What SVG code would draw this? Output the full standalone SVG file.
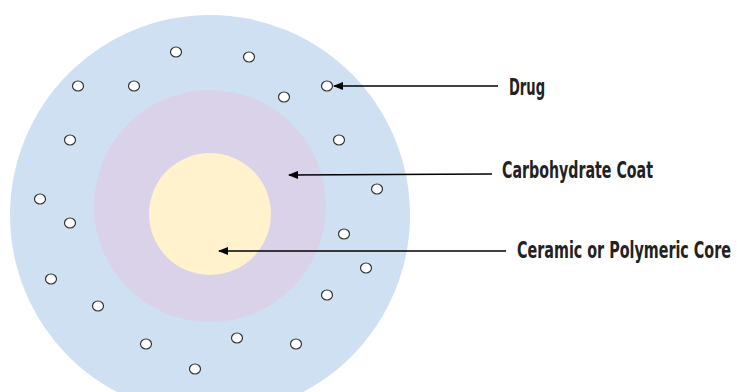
<svg xmlns="http://www.w3.org/2000/svg" width="737" height="392" viewBox="0 0 737 392">
<style>
.drug{fill:#ffffff;stroke:#333333;stroke-width:1.2}
.lbl{font-family:"DejaVu Sans","Liberation Sans",sans-serif;font-stretch:condensed;font-weight:bold;font-size:14px;fill:#222222}
.conn{stroke:#000000;stroke-width:1.6;fill:none}
</style>
<defs>
<marker id="ah" viewBox="0 0 10 8" refX="9" refY="4" markerWidth="10" markerHeight="8" markerUnits="userSpaceOnUse" orient="auto">
<path d="M0,0 L10,4 L0,8 Z" fill="#000000"/>
</marker>
</defs>
<rect width="737" height="392" fill="#ffffff"/>
<g id="shell"><circle cx="210" cy="215" r="200" fill="#cfe0f3"/></g>
<g id="coat"><circle cx="210" cy="206" r="116" fill="#d9d2e9"/></g>
<g id="core"><circle cx="210" cy="214" r="61" fill="#fff2cc"/></g>
<g id="drugs">
<ellipse class="drug" cx="176" cy="52" rx="5.5" ry="5"/>
<ellipse class="drug" cx="249" cy="57" rx="5.5" ry="5"/>
<ellipse class="drug" cx="78" cy="86" rx="5.5" ry="5"/>
<ellipse class="drug" cx="134" cy="86" rx="5.5" ry="5"/>
<ellipse class="drug" cx="327" cy="86" rx="5.5" ry="5"/>
<ellipse class="drug" cx="284" cy="97" rx="5.5" ry="5"/>
<ellipse class="drug" cx="70" cy="140" rx="5.5" ry="5"/>
<ellipse class="drug" cx="339" cy="140" rx="5.5" ry="5"/>
<ellipse class="drug" cx="377" cy="189" rx="5.5" ry="5"/>
<ellipse class="drug" cx="40" cy="199" rx="5.5" ry="5"/>
<ellipse class="drug" cx="70" cy="223" rx="5.5" ry="5"/>
<ellipse class="drug" cx="344" cy="234" rx="5.5" ry="5"/>
<ellipse class="drug" cx="366" cy="268" rx="5.5" ry="5"/>
<ellipse class="drug" cx="51" cy="279" rx="5.5" ry="5"/>
<ellipse class="drug" cx="327" cy="295" rx="5.5" ry="5"/>
<ellipse class="drug" cx="98" cy="306" rx="5.5" ry="5"/>
<ellipse class="drug" cx="146" cy="344" rx="5.5" ry="5"/>
<ellipse class="drug" cx="237" cy="338" rx="5.5" ry="5"/>
<ellipse class="drug" cx="296" cy="344" rx="5.5" ry="5"/>
<ellipse class="drug" cx="195" cy="369" rx="5.5" ry="5"/>
</g>
<g id="connectors">
<line class="conn" x1="498" y1="86" x2="334" y2="86" marker-end="url(#ah)"/>
<line class="conn" x1="492" y1="174" x2="289" y2="175" marker-end="url(#ah)"/>
<line class="conn" x1="506" y1="251" x2="219" y2="251" marker-end="url(#ah)"/>
</g>
<g id="label-drug"><text class="lbl" transform="translate(509,95) scale(1,1.64)" x="0" y="0" textLength="36" lengthAdjust="spacingAndGlyphs">Drug</text></g>
<g id="label-coat"><text class="lbl" transform="translate(502,178) scale(1,1.64)" x="0" y="0" textLength="151" lengthAdjust="spacingAndGlyphs">Carbohydrate Coat</text></g>
<g id="label-core"><text class="lbl" transform="translate(517,258) scale(1,1.64)" x="0" y="0" textLength="214" lengthAdjust="spacingAndGlyphs">Ceramic or Polymeric Core</text></g>
</svg>
